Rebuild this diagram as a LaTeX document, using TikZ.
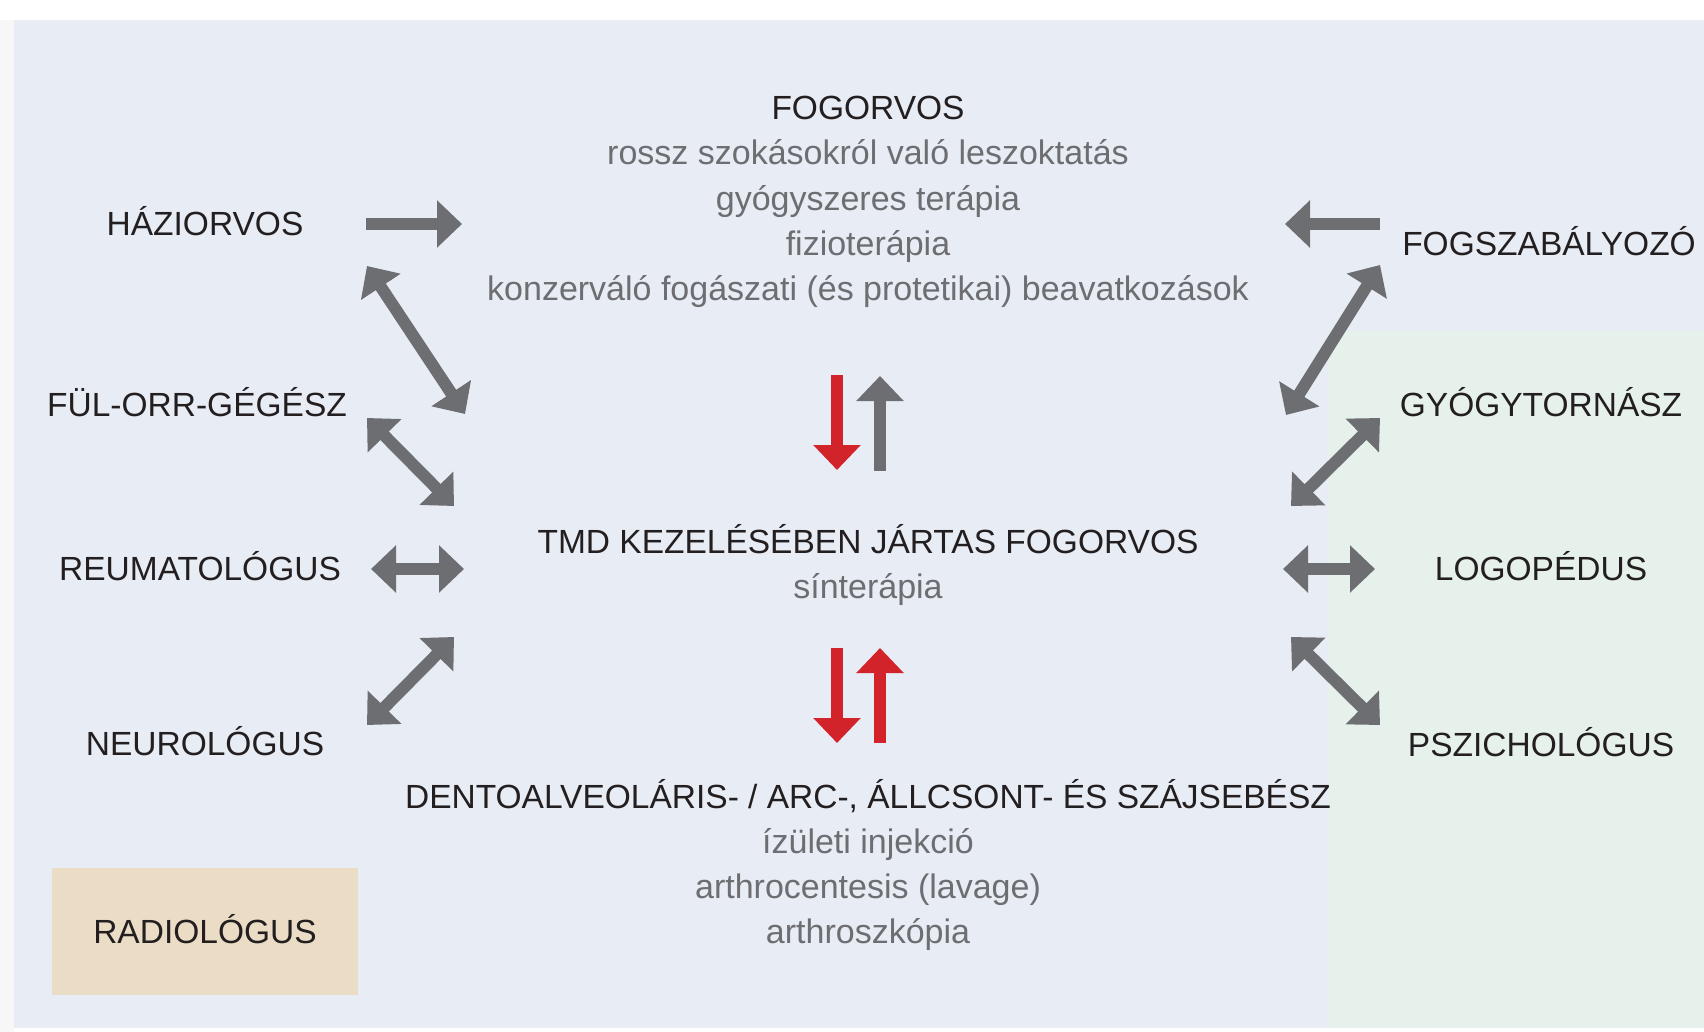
\documentclass[tikz,border=0pt]{standalone}
\usepackage{fontspec}
\setmainfont{Liberation Sans}
\usetikzlibrary{arrows.meta}
\definecolor{bgblue}{HTML}{E8ECF4}
\definecolor{bggreen}{HTML}{E7F1EC}
\definecolor{radbeige}{HTML}{EBDCC6}
\definecolor{arrgray}{HTML}{6D6E71}
\definecolor{arrred}{HTML}{D2232A}
\definecolor{txtblack}{HTML}{231F20}
\definecolor{txtgray}{HTML}{6D6E71}

\begin{document}
\begin{tikzpicture}[x=1pt,y=-1pt,
    >={Triangle[width=46pt,length=25pt]},
    spec/.style={inner sep=0pt,anchor=base,text=txtblack,font=\fontsize{33.5}{45}\selectfont},
    task/.style={spec,text=txtgray,align=center,font=\fontsize{34}{45}\selectfont},
    link/.style={draw=arrgray,line width=12pt,->},
    both/.style={link,<->},
    redlink/.style={link,draw=arrred}]
    \useasboundingbox (0,0) rectangle (1704,1032);
    \fill[white] (0,0) rectangle (1704,1032);
    \fill[gray!6] (0,20) rectangle (14,1032);
    \fill[bgblue] (14,20) rectangle (1704,1028);
    \fill[bggreen] (1328,331) rectangle (1704,1028);

    % the last line of a task list sits on the given baseline
    \node[spec] (fogorvos) at (868,120) {FOGORVOS};
    \node[task] (fogorvosTasks) at (868,300) {rossz szokásokról való leszoktatás\\
        gyógyszeres terápia\\ fizioterápia\\
        konzerváló fogászati (és protetikai) beavatkozások};
    \node[spec] (tmd) at (868,553) {TMD KEZELÉSÉBEN JÁRTAS FOGORVOS};
    \node[task] (tmdTasks) at (868,598) {sínterápia};
    \node[spec] (sebesz) at (868,808) {DENTOALVEOLÁRIS- / ARC-, ÁLLCSONT- ÉS SZÁJSEBÉSZ};
    \node[task] (sebeszTasks) at (868,943) {ízületi injekció\\
        arthrocentesis (lavage)\\ arthroszkópia};

    \node[spec] (haziorvos) at (205,235.5) {HÁZIORVOS};
    \node[spec] (ful) at (197,416.5) {FÜL-ORR-GÉGÉSZ};
    \node[spec] (reuma) at (200,580.5) {REUMATOLÓGUS};
    \node[spec] (neuro) at (205,755.5) {NEUROLÓGUS};
    \node[spec,anchor=center,fill=radbeige,minimum width=306pt,minimum height=127pt,
        text height=24pt,text depth=0pt] (radio) at (205,931.5) {RADIOLÓGUS};

    \node[spec] (fogszab) at (1549,256) {FOGSZABÁLYOZÓ};
    \node[spec] (torna) at (1541,416.5) {GYÓGYTORNÁSZ};
    \node[spec] (logo) at (1541,580.5) {LOGOPÉDUS};
    \node[spec] (pszich) at (1541,756) {PSZICHOLÓGUS};

    \coordinate (hazA) at (366,224);   \coordinate (hazB) at (462,224);
    \coordinate (hazC) at (367,266);   \coordinate (hazD) at (465,414);
    \coordinate (fulA) at (367,418);   \coordinate (fulB) at (454,506);
    \coordinate (reuA) at (371,569);   \coordinate (reuB) at (464,569);
    \coordinate (neuA) at (367,725);   \coordinate (neuB) at (454,637);
    \coordinate (szabA) at (1380,224); \coordinate (szabB) at (1285,224);
    \coordinate (szabC) at (1380,265); \coordinate (szabD) at (1286,415);
    \coordinate (tornA) at (1380,418); \coordinate (tornB) at (1291,506);
    \coordinate (logoA) at (1283,569); \coordinate (logoB) at (1375,569);
    \coordinate (pszA) at (1291,637);  \coordinate (pszB) at (1380,725);
    \coordinate (felsoA) at (837,375); \coordinate (felsoB) at (837,470);
    \coordinate (felsoC) at (880,471); \coordinate (felsoD) at (880,376);
    \coordinate (alsoA) at (837,648);  \coordinate (alsoB) at (837,743);
    \coordinate (alsoC) at (880,743);  \coordinate (alsoD) at (880,648);

    \draw[link] (hazA) -- (hazB);
    \draw[link] (szabA) -- (szabB);
    \foreach \a/\b in {hazC/hazD,fulA/fulB,reuA/reuB,neuA/neuB,
                       szabC/szabD,tornA/tornB,logoA/logoB,pszA/pszB}
        \draw[both] (\a) -- (\b);
    \draw[redlink] (felsoA) -- (felsoB);
    \draw[link] (felsoC) -- (felsoD);
    \draw[redlink] (alsoA) -- (alsoB);
    \draw[redlink] (alsoC) -- (alsoD);
\end{tikzpicture}
\end{document}
